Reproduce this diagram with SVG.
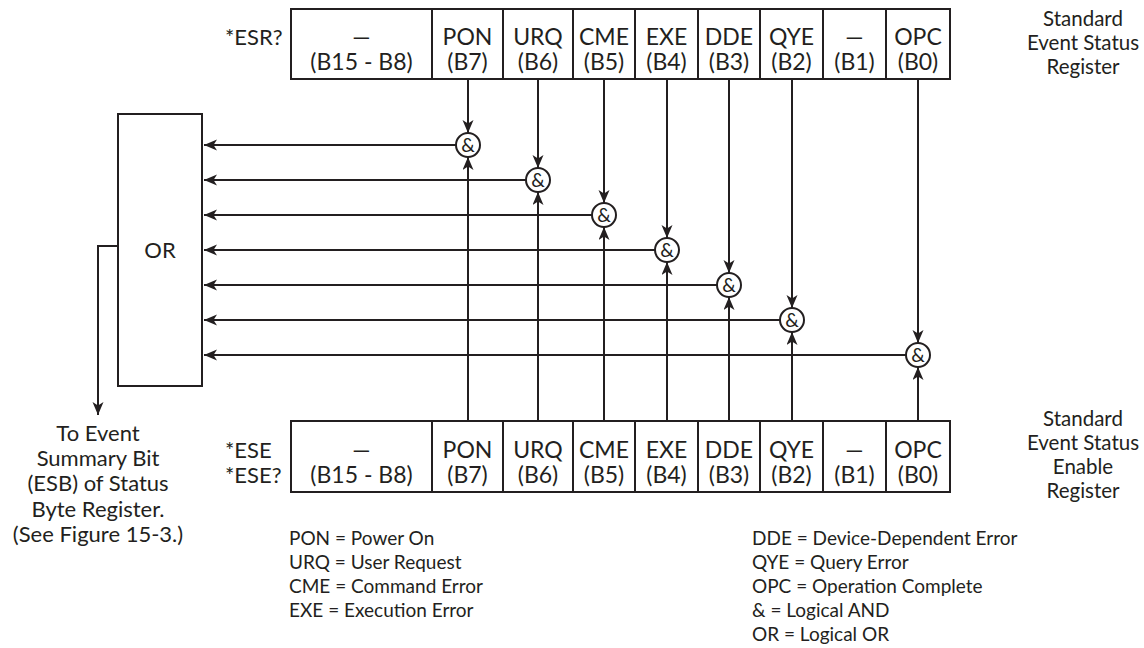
<svg xmlns="http://www.w3.org/2000/svg" width="1144" height="648" viewBox="0 0 1144 648">
<style>
text{font-family:Lato,"Liberation Sans",sans-serif;fill:#231f20}
.r{font-size:23px;text-anchor:middle}
.l{font-size:22px}
.c{font-size:22px;text-anchor:middle}
.s{font-size:20.5px;text-anchor:middle}
.g{font-size:19px;text-anchor:middle}
.lg{font-size:19px}
.box{fill:#fff;stroke:#231f20;stroke-width:2}
.ln{fill:none;stroke:#231f20;stroke-width:2}
</style>
<defs>
<marker id="ah" markerUnits="userSpaceOnUse" markerWidth="14" markerHeight="12" refX="13" refY="5.5" orient="auto">
<path d="M0,0 L13,5.5 L0,11 L3.5,5.5 z" fill="#231f20"/>
</marker>
</defs>
<g id="connectors" class="ln">
<path d="M468,79 V133" marker-end="url(#ah)"/>
<path d="M538,79 V168" marker-end="url(#ah)"/>
<path d="M604,79 V203" marker-end="url(#ah)"/>
<path d="M667,79 V238" marker-end="url(#ah)"/>
<path d="M729,79 V273" marker-end="url(#ah)"/>
<path d="M792,79 V308" marker-end="url(#ah)"/>
<path d="M918,79 V343" marker-end="url(#ah)"/>
<path d="M468,421 V157" marker-end="url(#ah)"/>
<path d="M538,421 V192" marker-end="url(#ah)"/>
<path d="M604,421 V227" marker-end="url(#ah)"/>
<path d="M667,421 V262" marker-end="url(#ah)"/>
<path d="M729,421 V297" marker-end="url(#ah)"/>
<path d="M792,421 V332" marker-end="url(#ah)"/>
<path d="M918,421 V367" marker-end="url(#ah)"/>
<path d="M456,145 H204" marker-end="url(#ah)"/>
<path d="M526,180 H204" marker-end="url(#ah)"/>
<path d="M592,215 H204" marker-end="url(#ah)"/>
<path d="M655,250 H204" marker-end="url(#ah)"/>
<path d="M717,285 H204" marker-end="url(#ah)"/>
<path d="M780,320 H204" marker-end="url(#ah)"/>
<path d="M906,355 H204" marker-end="url(#ah)"/>
<path d="M118,246 H98 V415" marker-end="url(#ah)"/>
</g>
<g id="esr">
<rect class="box" x="291" y="9" width="659" height="70"/>
<path class="ln" d="M432,9V79M503,9V79M573,9V79M635,9V79M698,9V79M760,9V79M823,9V79M886,9V79"/>
<text class="l" x="225" y="45">*ESR?</text>
<text class="r" x="361.5" y="45">—</text><text class="r" x="361.5" y="70">(B15 - B8)</text>
<text class="r" x="467.5" y="45">PON</text><text class="r" x="467.5" y="70">(B7)</text>
<text class="r" x="538" y="45">URQ</text><text class="r" x="538" y="70">(B6)</text>
<text class="r" x="604" y="45">CME</text><text class="r" x="604" y="70">(B5)</text>
<text class="r" x="666.5" y="45">EXE</text><text class="r" x="666.5" y="70">(B4)</text>
<text class="r" x="729" y="45">DDE</text><text class="r" x="729" y="70">(B3)</text>
<text class="r" x="791.5" y="45">QYE</text><text class="r" x="791.5" y="70">(B2)</text>
<text class="r" x="854.5" y="45">—</text><text class="r" x="854.5" y="70">(B1)</text>
<text class="r" x="918" y="45">OPC</text><text class="r" x="918" y="70">(B0)</text>
<text class="s" x="1083" y="26">Standard</text>
<text class="s" x="1083" y="50">Event Status</text>
<text class="s" x="1083" y="74">Register</text>
</g>
<g id="ese">
<rect class="box" x="291" y="421" width="659" height="71"/>
<path class="ln" d="M432,421V492M503,421V492M573,421V492M635,421V492M698,421V492M760,421V492M823,421V492M886,421V492"/>
<text class="l" x="225" y="458">*ESE</text>
<text class="l" x="225" y="483">*ESE?</text>
<text class="r" x="361.5" y="458">—</text><text class="r" x="361.5" y="483">(B15 - B8)</text>
<text class="r" x="467.5" y="458">PON</text><text class="r" x="467.5" y="483">(B7)</text>
<text class="r" x="538" y="458">URQ</text><text class="r" x="538" y="483">(B6)</text>
<text class="r" x="604" y="458">CME</text><text class="r" x="604" y="483">(B5)</text>
<text class="r" x="666.5" y="458">EXE</text><text class="r" x="666.5" y="483">(B4)</text>
<text class="r" x="729" y="458">DDE</text><text class="r" x="729" y="483">(B3)</text>
<text class="r" x="791.5" y="458">QYE</text><text class="r" x="791.5" y="483">(B2)</text>
<text class="r" x="854.5" y="458">—</text><text class="r" x="854.5" y="483">(B1)</text>
<text class="r" x="918" y="458">OPC</text><text class="r" x="918" y="483">(B0)</text>
<text class="s" x="1083" y="426">Standard</text>
<text class="s" x="1083" y="450">Event Status</text>
<text class="s" x="1083" y="474">Enable</text>
<text class="s" x="1083" y="498">Register</text>
</g>
<g id="or">
<rect class="box" x="118" y="114" width="84" height="272"/>
<text class="c" x="160" y="258">OR</text>
</g>
<g id="gates">
<g id="and-pon"><circle class="box" cx="468" cy="145" r="12"/><text class="g" x="468" y="151.5">&amp;</text></g>
<g id="and-urq"><circle class="box" cx="538" cy="180" r="12"/><text class="g" x="538" y="186.5">&amp;</text></g>
<g id="and-cme"><circle class="box" cx="604" cy="215" r="12"/><text class="g" x="604" y="221.5">&amp;</text></g>
<g id="and-exe"><circle class="box" cx="667" cy="250" r="12"/><text class="g" x="667" y="256.5">&amp;</text></g>
<g id="and-dde"><circle class="box" cx="729" cy="285" r="12"/><text class="g" x="729" y="291.5">&amp;</text></g>
<g id="and-qye"><circle class="box" cx="792" cy="320" r="12"/><text class="g" x="792" y="326.5">&amp;</text></g>
<g id="and-opc"><circle class="box" cx="918" cy="355" r="12"/><text class="g" x="918" y="361.5">&amp;</text></g>
</g>
<g id="esb-note">
<text class="c" x="98" y="441">To Event</text>
<text class="c" x="98" y="466">Summary Bit</text>
<text class="c" x="98" y="491">(ESB) of Status</text>
<text class="c" x="98" y="517">Byte Register.</text>
<text class="c" x="98" y="542">(See Figure 15-3.)</text>
</g>
<g id="legend">
<text class="lg" x="289" y="545">PON = Power On</text>
<text class="lg" x="289" y="569">URQ = User Request</text>
<text class="lg" x="289" y="593">CME = Command Error</text>
<text class="lg" x="289" y="617">EXE = Execution Error</text>
<text class="lg" x="752" y="545">DDE = Device-Dependent Error</text>
<text class="lg" x="752" y="569">QYE = Query Error</text>
<text class="lg" x="752" y="593">OPC = Operation Complete</text>
<text class="lg" x="752" y="617">&amp; = Logical AND</text>
<text class="lg" x="752" y="641">OR = Logical OR</text>
</g>
</svg>
